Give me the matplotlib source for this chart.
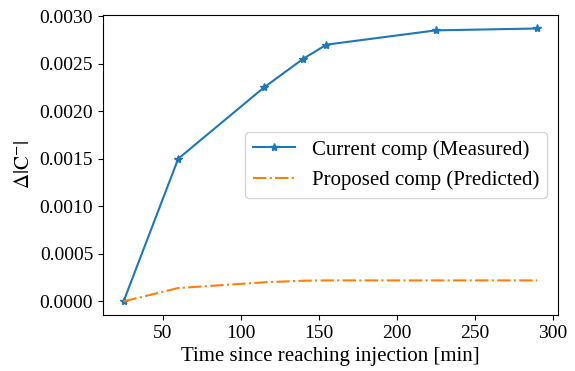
import matplotlib
matplotlib.use('Agg')
import matplotlib.pyplot as plt

# data
time_min = [25, 60, 115, 140, 155, 225, 290]
measured = [0.0, 0.0015, 0.00225, 0.00255, 0.0027, 0.00285, 0.00287]
predicted = [0.0, 0.00014, 0.0002, 0.000217, 0.00022, 0.00022, 0.00022]

plt.rcParams['font.family'] = 'serif'
plt.rcParams['font.serif'] = ['Liberation Serif', 'DejaVu Serif']
plt.rcParams['mathtext.fontset'] = 'stix'
plt.rcParams['font.size'] = 14

fig, ax = plt.subplots(figsize=(5.75, 3.71), dpi=100)
ax.plot(time_min, measured, marker='*', label='Current comp (Measured)')
ax.plot(time_min, predicted, linestyle='-.', label='Proposed comp (Predicted)')

ax.set_xlabel('Time since reaching injection [min]', fontsize=15)
ax.set_ylabel(r'$\Delta|\mathrm{C}^{-}|$', fontsize=15)
ax.legend(loc='center right', fontsize=15)

plt.subplots_adjust(left=0.179, right=0.970, top=0.960, bottom=0.151)
plt.savefig('out.png')
